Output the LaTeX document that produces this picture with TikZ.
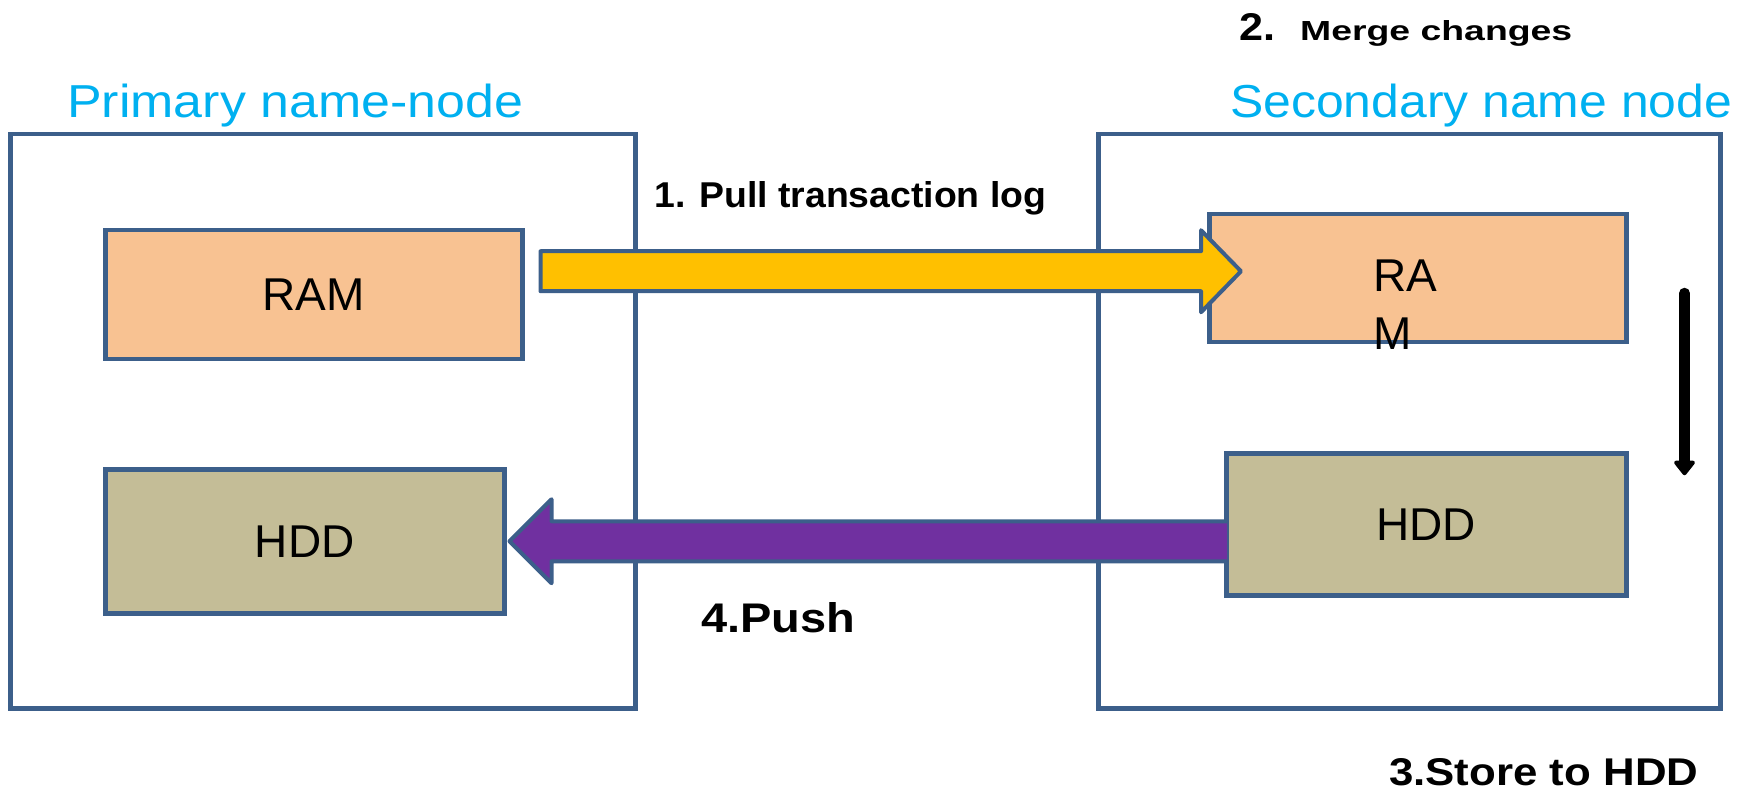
\documentclass[tikz,border=0pt]{standalone}
\usepackage{fontspec}
\setmainfont{Liberation Sans}
\usepackage{graphicx}
\usetikzlibrary{calc,arrows.meta}
\definecolor{bord}{HTML}{3C5F8A}
\definecolor{ramc}{HTML}{F8C292}
\definecolor{hddc}{HTML}{C4BD97}
\definecolor{titc}{HTML}{00B0F0}
\definecolor{yel}{HTML}{FFC000}
\definecolor{pur}{HTML}{7030A0}
\newcommand{\fitt}[3]{\resizebox{#1pt}{#2pt}{#3}}
\begin{document}
\begin{tikzpicture}[x=1pt,y=-1pt,
  frame/.style={draw=bord,line width=4.5pt,fill=white,anchor=north west,inner sep=0pt},
  rambox/.style={draw=bord,line width=4.5pt,fill=ramc,anchor=north west,inner sep=0pt,
     font=\fontsize{46}{50}\selectfont},
  hddbox/.style={draw=bord,line width=4.5pt,fill=hddc,anchor=north west,inner sep=0pt,
     font=\fontsize{46}{50}\selectfont},
  title/.style={text=titc,anchor=base west,inner sep=0pt},
  steptxt/.style={anchor=base west,inner sep=0pt,font=\bfseries},
  blockarrow/.style={draw=bord,line width=4pt,line join=round}
]
\useasboundingbox (0,0) rectangle (1754,791);

% outer frames
\node[frame,minimum width=625pt,minimum height=574pt] (prim) at (8,132) {};
\node[frame,minimum width=622pt,minimum height=574pt] (sec) at (1096,132) {};

% inner boxes
\node[rambox,minimum width=417pt,minimum height=129pt] (ramL) at (103,228) {RAM};
\node[hddbox,minimum width=399pt,minimum height=144pt] (hddL) at (103,467) {HDD};
\node[rambox,minimum width=417pt,minimum height=128pt] (ramR) at (1207,212) {};
\node[hddbox,minimum width=400pt,minimum height=142pt] (hddR) at (1224,451) {HDD};

% titles
\node[title] (tprim) at (67,118) {\fitt{456}{33.5}{Primary name-node}};
\node[title] (tsec) at (1230,118) {\fitt{502}{33.5}{Secondary name node}};

% yellow block arrow: 1. pull
\coordinate (yt) at ($(ramL.east)+(16,-23.5)$);
\coordinate (yh) at ($(ramR.west)+(34,-7)$);
\draw[blockarrow,fill=yel] ($(yt)+(0,-20)$) -- ($(yh)+(-40,-20)$) -- ($(yh)+(-40,-41)$) -- (yh)
   -- ($(yh)+(-40,41)$) -- ($(yh)+(-40,20)$) -- ($(yt)+(0,20)$) -- cycle;

% purple block arrow: 4. push
\coordinate (pt) at ($(hddR.west)+(3,17)$);
\coordinate (ph) at ($(hddL.east)+(3,0)$);
\fill[pur] ($(pt)+(0,-20)$) -- ($(ph)+(42,-20)$) -- ($(ph)+(42,-42)$) -- (ph)
   -- ($(ph)+(42,42)$) -- ($(ph)+(42,20)$) -- ($(pt)+(0,20)$) -- cycle;
\draw[blockarrow] ($(pt)+(0,-20)$) -- ($(ph)+(42,-20)$) -- ($(ph)+(42,-42)$) -- (ph)
   -- ($(ph)+(42,42)$) -- ($(ph)+(42,20)$) -- ($(pt)+(0,20)$);

% black arrow: 3. store
\coordinate (bs) at ($(ramR.east)+(56,15)$);
\coordinate (be) at ($(hddR.east)+(56,-49)$);
\draw[line width=11pt,line cap=round,-{Triangle[width=24pt,length=16pt,round]}] (bs) -- (be);

% texts in right RAM
\node[anchor=base west,inner sep=0pt,align=left,font=\fontsize{46}{58}\selectfont] (ramRt) at (1373,350) {RA\\M};

% step labels
\node[steptxt] (s1) at (654,208) {\fitt{392}{26}{1. Pull transaction log}};
\node[steptxt] (s2) at (1239,41) {\fitt{36}{27}{2.}\hspace{25pt}\fitt{272}{20}{Merge changes}};
\node[steptxt] (s3) at (1389,785) {\fitt{309}{27}{3.Store to HDD}};
\node[steptxt] (s4) at (701,632) {\fitt{154}{30}{4.Push}};
\end{tikzpicture}
\end{document}
